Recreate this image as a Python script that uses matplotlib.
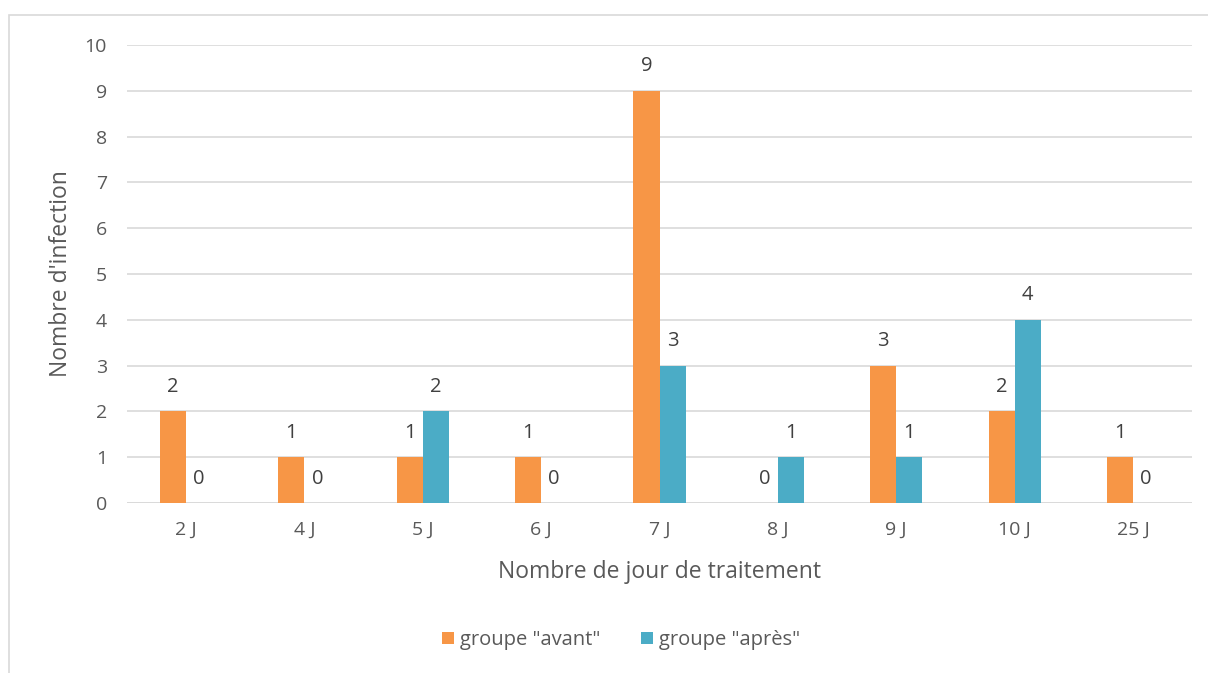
import numpy as np
import matplotlib.pyplot as plt
from matplotlib.patches import Rectangle

plt.rcParams['font.family'] = ['Open Sans', 'DejaVu Sans']

jours = ['2 J', '4 J', '5 J', '6 J', '7 J', '8 J', '9 J', '10 J', '25 J']
avant = [2, 1, 1, 1, 9, 0, 3, 2, 1]
apres = [0, 0, 2, 0, 3, 1, 1, 4, 0]

orange = '#F79646'
bleu = '#4BACC6'
gris = '#595959'

fig = plt.figure(figsize=(12.08, 6.73), dpi=100)
ax = fig.add_axes([0.1051, 0.2526, 0.8817, 0.6805])

# cadre autour du graphique
fig.patches.append(Rectangle((9 / 1208, -0.1), 1.2, 1 - 15 / 673 + 0.1,
                             transform=fig.transFigure, fill=False,
                             edgecolor='#D9D9D9', linewidth=1.2))

x = np.arange(len(jours))
w = 0.22
b1 = ax.bar(x - w / 2, avant, w, color=orange, label='groupe "avant"', zorder=3)
b2 = ax.bar(x + w / 2, apres, w, color=bleu, label='groupe "après"', zorder=3)

for bars, vals in ((b1, avant), (b2, apres)):
    for r, v in zip(bars, vals):
        ax.annotate(str(v), (r.get_x() + r.get_width() / 2, v),
                    xytext=(0, 14), textcoords='offset points',
                    ha='center', va='baseline', fontsize=14.5, color='#404040')

ax.set_xlim(-0.5, len(jours) - 0.5)
ax.set_ylim(0, 10)
ax.set_yticks(range(0, 11))
ax.set_xticks(x)
ax.set_xticklabels(jours)
ax.yaxis.grid(True, color='#D9D9D9', linewidth=1.2, zorder=0)
ax.tick_params(axis='both', length=0, labelsize=14, colors=gris)
ax.tick_params(axis='y', pad=14.5)
ax.tick_params(axis='x', pad=13)
for s in ax.spines.values():
    s.set_visible(False)
ax.axhline(0, color='#D9D9D9', linewidth=1.2, zorder=2)

ax.set_xlabel('Nombre de jour de traitement', fontsize=16.5, color=gris, labelpad=15)
ax.set_ylabel("Nombre d'infection", fontsize=16.5, color=gris, labelpad=8)

fig.legend(handles=[b1, b2], loc='center', bbox_to_anchor=(0.514, 1 - 640 / 673),
           ncol=2, frameon=False, fontsize=14.5, handlelength=0.6, handleheight=0.6,
           handletextpad=0.3, columnspacing=2.0, labelcolor=gris)

fig.savefig('out.png', dpi=100)
